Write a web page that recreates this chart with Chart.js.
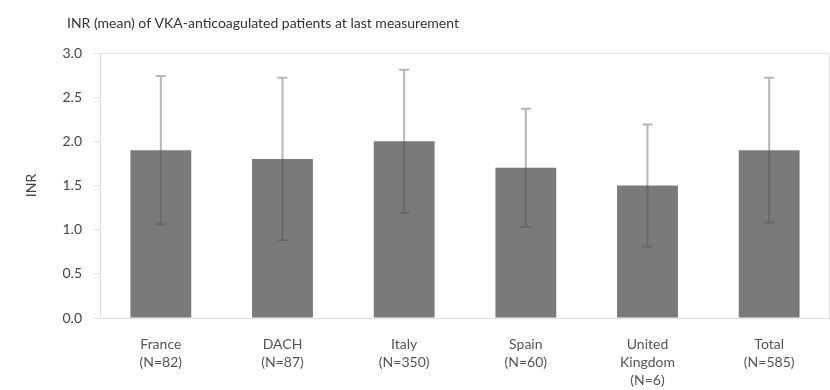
<!DOCTYPE html>
<html>
<head>
<meta charset="utf-8">
<script src="https://cdn.jsdelivr.net/npm/chart.js@4/dist/chart.umd.min.js"></script>
<style>
  html, body { margin: 0; padding: 0; background: #fff; }
  #wrap { width: 830px; height: 390px; position: relative; }
</style>
</head>
<body>
<div id="wrap"><canvas id="c"></canvas></div>
<script>
// Country groups, shown on two or three lines under each bar
const categories = [
  ['France', '(N=82)'],
  ['DACH', '(N=87)'],
  ['Italy', '(N=350)'],
  ['Spain', '(N=60)'],
  ['United', 'Kingdom', '(N=6)'],
  ['Total', '(N=585)']
];
// Mean INR per group
const inrMean = [1.9, 1.8, 2.0, 1.7, 1.5, 1.9];
// Standard deviation per group (drawn as error bars)
const inrSD = [0.84, 0.92, 0.81, 0.67, 0.69, 0.82];
// Y axis ticks
const yTicks = [0, 0.5, 1.0, 1.5, 2.0, 2.5, 3.0];

const titleText = 'INR (mean) of VKA-anticoagulated patients at last measurement';

// Draws mean ± SD whiskers for every bar, using the y scale for positions
const errorBars = {
  id: 'errorBars',
  afterDatasetsDraw(chart) {
    const meta = chart.getDatasetMeta(0);
    const y = chart.scales.y;
    const ctx = chart.ctx;
    ctx.save();
    ctx.strokeStyle = 'rgba(80,80,80,0.42)';
    ctx.lineWidth = 2;
    meta.data.forEach((bar, i) => {
      const x = bar.x;
      const top = y.getPixelForValue(inrMean[i] + inrSD[i]);
      const bot = y.getPixelForValue(inrMean[i] - inrSD[i]);
      const cap = 5;
      ctx.beginPath();
      ctx.moveTo(x, top); ctx.lineTo(x, bot);
      ctx.moveTo(x - cap, top); ctx.lineTo(x + cap, top);
      ctx.moveTo(x - cap, bot); ctx.lineTo(x + cap, bot);
      ctx.stroke();
    });
    ctx.restore();
  }
};

// Plot frame (top and right edges) and the heading
const frameAndTitle = {
  id: 'frameAndTitle',
  afterDraw(chart) {
    const { ctx, chartArea: a } = chart;
    ctx.save();
    ctx.strokeStyle = '#e4e4e4';
    ctx.lineWidth = 1;
    ctx.beginPath();
    ctx.moveTo(a.left, a.top + 0.5); ctx.lineTo(a.right - 0.5, a.top + 0.5);
    ctx.lineTo(a.right - 0.5, a.bottom);
    ctx.stroke();
    ctx.fillStyle = '#333';
    ctx.font = '14px Lato';
    ctx.textBaseline = 'middle';
    ctx.textAlign = 'left';
    ctx.fillText(titleText, 67, 23);
    ctx.restore();
  }
};

new Chart(document.getElementById('c'), {
  type: 'bar',
  data: {
    labels: categories,
    datasets: [{
      data: inrMean,
      backgroundColor: '#7a7a7a',
      borderWidth: 0,
      categoryPercentage: 1.0,
      barPercentage: 0.5
    }]
  },
  options: {
    responsive: true,
    maintainAspectRatio: false,
    animation: false,
    layout: { padding: { top: 53, right: 0, left: 0, bottom: 0 } },
    plugins: {
      legend: { display: false },
      tooltip: { enabled: false },
      title: { display: false }
    },
    scales: {
      x: {
        grid: { display: false },
        border: { display: true, color: '#e0e0e0', width: 1 },
        ticks: {
          color: '#555',
          font: { family: 'Lato', size: 14, lineHeight: 1.3 },
          padding: 9,
          maxRotation: 0,
          autoSkip: false
        },
        afterFit(scale) { scale.height = 72; }
      },
      y: {
        min: 0,
        max: 3,
        afterBuildTicks(scale) { scale.ticks = yTicks.map(v => ({ value: v })); },
        grid: {
          drawOnChartArea: false,
          drawTicks: true,
          tickLength: 7,
          tickColor: '#e6e6e6'
        },
        border: { display: true, color: '#e0e0e0', width: 1 },
        ticks: {
          color: '#444',
          font: { family: 'Lato', size: 14 },
          padding: 11,
          callback: v => Number(v).toFixed(1)
        },
        title: {
          display: true,
          text: 'INR',
          color: '#444',
          font: { family: 'Lato', size: 14 },
          padding: { top: 23, bottom: 0 }
        },
        afterFit(scale) { scale.width = 100; }
      }
    }
  },
  plugins: [errorBars, frameAndTitle]
});
</script>
</body>
</html>
